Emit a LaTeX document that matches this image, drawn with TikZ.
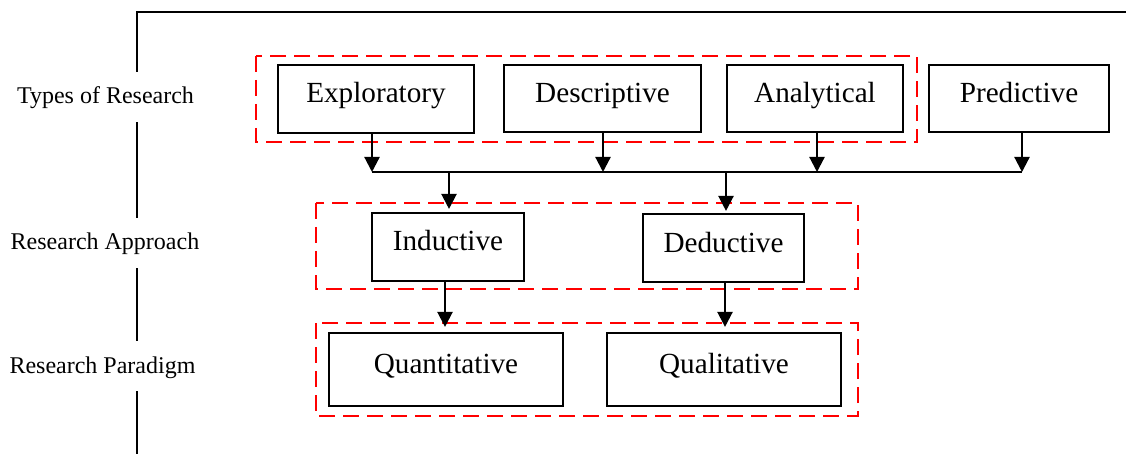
\documentclass[tikz,border=0pt]{standalone}
\usepackage{fontspec}
\setmainfont{Liberation Serif}
\usetikzlibrary{arrows.meta,calc}
\begin{document}
\begin{tikzpicture}[x=1pt,y=-1pt,
  box/.style={draw=black,line width=2.1pt,inner sep=0pt,fill=white,
    font=\fontsize{29.2}{35}\selectfont,text height=20pt,text depth=12pt},
  sidelabel/.style={fill=white,inner xsep=1pt,inner ysep=15pt,
    font=\fontsize{24}{29}\selectfont,text height=17pt,text depth=3pt},
  group/.style={draw=red,line width=2pt,dash pattern=on 16pt off 8pt},
  conn/.style={line width=2.2pt,draw=black},
  arr/.style={conn,-{Triangle[width=15pt,length=15pt]}}]
\useasboundingbox (0,0) rectangle (1126,454);
% frame
\draw[conn] (137,454) -- (137,12) -- (1126,12);
% side labels
\node[sidelabel] (lt) at (105.5,97) {Types of Research};
\node[sidelabel] (la) at (105,243) {Research Approach};
\node[sidelabel] (lp) at (102.5,366) {Research Paradigm};
% groups
\draw[group] (256,56) rectangle (917,142);
\draw[group] (316,203) rectangle (858,289);
\draw[group] (316,323) rectangle (858,416);
% boxes
\node[box,minimum width=196pt,minimum height=68pt] (expl) at (376,99) {Exploratory};
\node[box,minimum width=197pt,minimum height=67pt] (desc) at (602.5,98.5) {Descriptive};
\node[box,minimum width=176pt,minimum height=67pt] (anal) at (815,98.5) {Analytical};
\node[box,minimum width=180pt,minimum height=67pt] (pred) at (1019,98.5) {Predictive};
\node[box,minimum width=152pt,minimum height=68pt] (ind) at (448,247) {Inductive};
\node[box,minimum width=161pt,minimum height=68pt] (ded) at (723.5,248) {Deductive};
\node[box,minimum width=234pt,minimum height=73pt] (quan) at (446,369.5) {Quantitative};
\node[box,minimum width=234pt,minimum height=73pt] (qual) at (724,369.5) {Qualitative};
% junctions
\coordinate (j1) at (372,172);
\coordinate (j2) at (603,172);
\coordinate (j3) at (817,172);
\coordinate (j4) at (1022,172);
\coordinate (k1) at (449,172);
\coordinate (k2) at (726,172);
\coordinate (m1) at (445,0);
\coordinate (m2) at (725,0);
% connectors
\draw[arr] (expl.south -| j1) -- (j1);
\draw[arr] (desc.south -| j2) -- (j2);
\draw[arr] (anal.south -| j3) -- (j3);
\draw[arr] (pred.south -| j4) -- (j4);
\draw[conn] (j1) -- (j4);
\draw[arr,shorten >=3pt] (k1) -- (k1 |- ind.north);
\draw[arr,shorten >=2pt] (k2) -- (k2 |- ded.north);
\draw[arr,shorten >=5pt] (ind.south -| m1) -- (quan.north -| m1);
\draw[arr,shorten >=5pt] (ded.south -| m2) -- (qual.north -| m2);
\end{tikzpicture}
\end{document}
